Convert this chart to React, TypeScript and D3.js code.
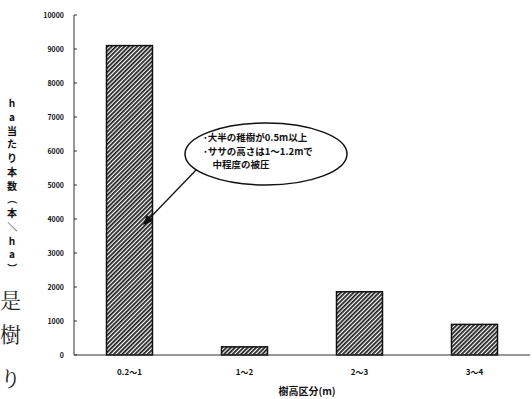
import React from "react";
import * as d3 from "d3";

const categories = ["0.2～1", "1～2", "2～3", "3～4"];
const values = [9100, 240, 1860, 900];
const yTicks = [0, 1000, 2000, 3000, 4000, 5000, 6000, 7000, 8000, 9000, 10000];
const yTitleChars = ["h", "a", "当", "た", "り", "本", "数", "（", "本", "／", "h", "a", "）"];
const noteLines = ["･大半の稚樹が0.5m以上", "･ササの高さは1～1.2mで", "　中程度の被圧"];
const xTitle = "樹高区分(m)";
const strayChars = ["是", "樹", "り"];

const W = 532;
const H = 399;

export default function App() {
  const x = d3.scaleBand<string>().domain(categories).range([72, 532]).paddingInner(0.6).paddingOuter(0.3);
  const y = d3.scaleLinear().domain([0, 10000]).range([355, 15]);
  const font = "'Noto Sans CJK JP', 'Noto Sans', sans-serif";
  const arrowStart = { x: 198, y: 168 };
  const arrowEnd = { x: 143, y: 225 };
  const ang = Math.atan2(arrowEnd.y - arrowStart.y, arrowEnd.x - arrowStart.x);
  const ah = 10;
  const aw = 4.5;
  const headPts = [
    [arrowEnd.x, arrowEnd.y],
    [arrowEnd.x - ah * Math.cos(ang) + aw * Math.sin(ang), arrowEnd.y - ah * Math.sin(ang) - aw * Math.cos(ang)],
    [arrowEnd.x - ah * Math.cos(ang) - aw * Math.sin(ang), arrowEnd.y - ah * Math.sin(ang) + aw * Math.cos(ang)],
  ];
  return (
    <svg width={W} height={H} style={{ position: "absolute", left: 0, top: 0, background: "#fff" }}>
      <defs>
        <pattern id="hatch" width="3" height="3" patternUnits="userSpaceOnUse" patternTransform="rotate(45)">
          <rect width="3" height="3" fill="#fff" />
          <rect width="1.8" height="3" fill="#222" />
        </pattern>
      </defs>
      <rect width={W} height={H} fill="#fff" />
      {/* stray page text */}
      {strayChars.map((c, i) => (
        <text key={i} x={0} y={[308, 342, 386][i]} fontSize={21} fontFamily="'Noto Serif CJK JP', 'Noto Sans CJK JP', serif" fill="#222">
          {c}
        </text>
      ))}
      {/* y axis */}
      <line x1={74} x2={74} y1={y(10000)} y2={y(0)} stroke="#333" strokeWidth={1} />
      {yTicks.map((t) => (
        <g key={t}>
          <line x1={74} x2={77} y1={y(t)} y2={y(t)} stroke="#333" strokeWidth={1} />
          <text x={64} y={y(t) + 3} textAnchor="end" fontSize={7} fontWeight="bold" fontFamily={font} fill="#111">
            {t}
          </text>
        </g>
      ))}
      {/* y title */}
      {yTitleChars.map((c, i) => (
        <text key={i} x={12} y={107 + i * 13.75} textAnchor="middle" fontSize={10} fontWeight="bold" fontFamily={font} fill="#111"
          transform={c === "（" || c === "）" || c === "／" ? `rotate(90, 12, ${103 + i * 13.75})` : undefined}>
          {c}
        </text>
      ))}
      {/* bars */}
      {categories.map((c, i) => (
        <rect key={c} x={x(c)} y={y(values[i])} width={x.bandwidth()} height={y(0) - y(values[i])} fill="url(#hatch)" stroke="#111" strokeWidth={1.5} />
      ))}
      {/* baseline */}
      <line x1={74} x2={530} y1={y(0)} y2={y(0)} stroke="#333" strokeWidth={1.2} />
      {/* category labels */}
      {categories.map((c) => (
        <text key={c} x={(x(c) as number) + x.bandwidth() / 2} y={375} textAnchor="middle" fontSize={8} fontWeight="bold" fontFamily={font} fill="#111">
          {c}
        </text>
      ))}
      <text x={307} y={395} textAnchor="middle" fontSize={10} fontWeight="bold" fontFamily={font} fill="#111">
        {xTitle}
      </text>
      {/* annotation */}
      <line x1={arrowStart.x} y1={arrowStart.y} x2={arrowEnd.x - 6 * Math.cos(ang)} y2={arrowEnd.y - 6 * Math.sin(ang)} stroke="#111" strokeWidth={1.3} />
      <polygon points={headPts.map((p) => p.join(",")).join(" ")} fill="#111" />
      <ellipse cx={266} cy={154} rx={81} ry={31} fill="#fff" stroke="#111" strokeWidth={1.5} />
      {noteLines.map((l, i) => (
        <text key={i} x={203} y={141 + i * 13.5} fontSize={9.5} fontWeight="bold" fontFamily={font} fill="#111">
          {l}
        </text>
      ))}
    </svg>
  );
}
